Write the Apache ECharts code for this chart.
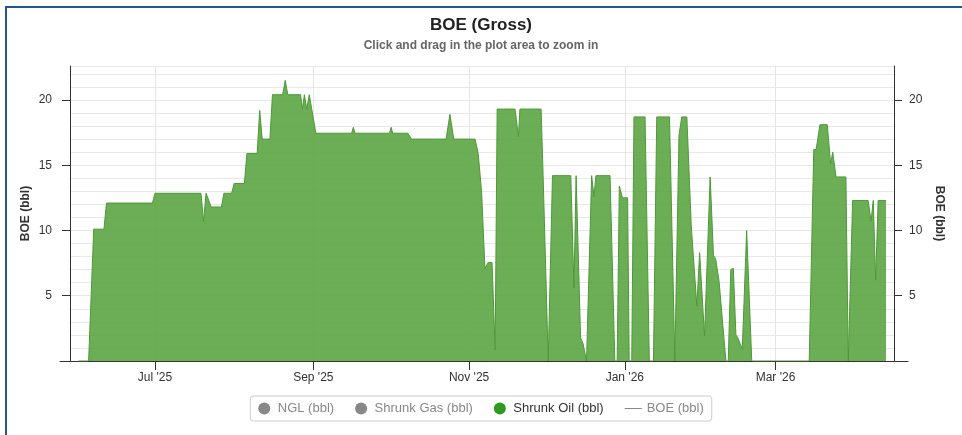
<!DOCTYPE html>
<html>
<head>
<meta charset="UTF-8">
<title>BOE (Gross)</title>
<script src="https://cdn.jsdelivr.net/npm/echarts@6/dist/echarts.min.js"></script>
<style>
  html, body { margin: 0; padding: 0; background: #fff; }
  #wrap { position: relative; width: 962px; height: 435px; overflow: hidden; }
  #chart { position: absolute; left: 0; top: 0; width: 962px; height: 435px; }
  #frame { position: absolute; left: 5px; top: 6px; right: 0; bottom: 0;
           border-left: 2px solid #22578a; border-top: 2px solid #22578a; pointer-events: none; }
</style>
</head>
<body>
<div id="wrap">
  <div id="chart"></div>
  <div id="frame"></div>
</div>
<script type="text/javascript">
// dates of the readings (local time)
var dates = [
  '2025-06-01','2025-06-05','2025-06-07','2025-06-11','2025-06-12','2025-06-30',
  '2025-07-01','2025-07-19','2025-07-20','2025-07-21','2025-07-23','2025-07-27','2025-07-28','2025-07-31',
  '2025-08-01','2025-08-05','2025-08-06','2025-08-10','2025-08-11','2025-08-12','2025-08-15','2025-08-16',
  '2025-08-20','2025-08-21','2025-08-22','2025-08-27','2025-08-27 18:00','2025-08-28 12:00','2025-08-29 10:00','2025-08-30 10:00',
  '2025-09-02','2025-09-16','2025-09-16 16:00','2025-09-17 08:00','2025-09-30 20:00','2025-10-01 12:00','2025-10-02 02:00',
  '2025-10-08','2025-10-09 12:00','2025-10-23','2025-10-24 12:00','2025-10-26',
  '2025-11-03 08:00','2025-11-04 14:00','2025-11-05 22:00','2025-11-07 05:00','2025-11-08 12:00','2025-11-10','2025-11-11 05:00',
  '2025-11-12','2025-11-19','2025-11-20 08:00','2025-11-20 22:00','2025-11-29 05:00','2025-11-30',
  '2025-12-02','2025-12-03 16:00','2025-12-10 20:00','2025-12-12 02:00','2025-12-12 22:00','2025-12-14 16:00','2025-12-15 16:00',
  '2025-12-17','2025-12-17 16:00','2025-12-19','2025-12-19 22:00','2025-12-20 16:00','2025-12-26 05:00','2025-12-28 02:00',
  '2025-12-29','2025-12-29 20:00','2025-12-31 02:00',
  '2026-01-02 02:00','2026-01-02 17:00','2026-01-03 17:00','2026-01-04 14:00','2026-01-08 22:00','2026-01-10 14:00','2026-01-12 05:00',
  '2026-01-13 12:00','2026-01-18 12:00','2026-01-20 14:00','2026-01-21 07:00','2026-01-22 05:00','2026-01-23 07:00','2026-01-25 07:00',
  '2026-01-27','2026-01-29 05:00','2026-01-30 07:00',
  '2026-02-01 05:00','2026-02-03 10:00','2026-02-04 17:00','2026-02-05 14:00','2026-02-06 22:00','2026-02-09 14:00','2026-02-10 12:00',
  '2026-02-11 12:00','2026-02-12 12:00','2026-02-13 12:00','2026-02-14 05:00','2026-02-16','2026-02-17 17:00','2026-02-19 17:00',
  '2026-03-14 05:00','2026-03-16','2026-03-16 22:00','2026-03-18 10:00','2026-03-21 07:00','2026-03-22 14:00','2026-03-23 10:00',
  '2026-03-24 17:00','2026-03-28 14:00','2026-03-29 12:00','2026-03-31 05:00',
  '2026-04-06 07:00','2026-04-07 10:00','2026-04-08 07:00','2026-04-09 05:00','2026-04-10 05:00','2026-04-13 07:00'
];
// Shrunk Oil (bbl)
var shrunkOil = [
  0, 0, 10.1, 10.1, 12.1, 12.1,
  12.85, 12.85, 10.7, 12.85, 11.8, 11.8, 12.85, 12.85,
  13.6, 13.6, 15.9, 15.9, 19.2, 17.0, 17.0, 20.4,
  20.4, 21.5, 20.4, 20.4, 19.3, 20.4, 19.3, 20.4,
  17.45, 17.45, 17.9, 17.45, 17.45, 17.9, 17.45,
  17.45, 17.0, 17.0, 18.9, 17.0,
  17.0, 15.9, 12.9, 7.1, 7.55, 7.55, 0.85,
  19.3, 19.3, 17.2, 19.3, 19.3, 14.2,
  0, 14.2, 14.2, 5.6, 14.2, 1.8, 1.3,
  0, 0, 14.2, 12.6, 14.2, 14.2, 0,
  0, 13.4, 12.5,
  12.5, 0, 0, 18.7, 18.7, 0, 0,
  18.7, 18.7, 0, 0, 17.3, 18.7, 18.7,
  10.4, 4.2, 8.3,
  1.9, 14.1, 8.1, 7.8, 6.1, 0, 0,
  7.0, 7.1, 2.0, 1.8, 0.9, 10.0, 0,
  0, 16.2, 16.2, 18.1, 18.1, 15.1, 16.0,
  14.1, 14.1, 0, 12.3,
  12.3, 10.7, 12.3, 6.2, 12.3, 12.3
];
// hidden in the legend (not shown)
var ngl = [];
var shrunkGas = [];
var boe = [];

var monthTicks = ['2025-07-01', '2025-09-01', '2025-11-01', '2026-01-01', '2026-03-01'];
var yTicks = [5, 10, 15, 20];
var yMax = 22.6;
var xStart = new Date(2025, 4, 28, 17).getTime();
var xEnd = new Date(2026, 3, 16, 10).getTime();

var monthNames = ['Jan','Feb','Mar','Apr','May','Jun','Jul','Aug','Sep','Oct','Nov','Dec'];
function toTime(s) {
    var p = s.split(/[- :]/);
    return new Date(+p[0], +p[1] - 1, +p[2], +(p[3] || 0), +(p[4] || 0)).getTime();
}
var tickTimes = monthTicks.map(toTime);
var oilData = dates.map(function (d, i) { return [toTime(d), shrunkOil[i]]; });

var font = 'Liberation Sans, Arial, sans-serif';
var chart = echarts.init(document.getElementById('chart'));
var option = {
    animation: false,
    textStyle: { fontFamily: font },
    title: {
        text: 'BOE (Gross)',
        subtext: 'Click and drag in the plot area to zoom in',
        left: 'center',
        top: 12,
        itemGap: 6,
        textStyle: { fontFamily: font, fontSize: 17, fontWeight: 'bold', color: '#222' },
        subtextStyle: { fontFamily: font, fontSize: 12, fontWeight: 'bold', color: '#666' }
    },
    legend: {
        left: 'center',
        top: 396,
        data: [
            { name: 'NGL (bbl)', icon: 'circle' },
            { name: 'Shrunk Gas (bbl)', icon: 'circle' },
            { name: 'Shrunk Oil (bbl)', icon: 'circle' },
            { name: 'BOE (bbl)', icon: 'path://M0,0L17,0L17,1L0,1Z' }
        ],
        selected: { 'NGL (bbl)': false, 'Shrunk Gas (bbl)': false, 'Shrunk Oil (bbl)': true, 'BOE (bbl)': false },
        itemWidth: 17,
        itemHeight: 12,
        itemGap: 21,
        padding: [6, 8],
        backgroundColor: '#fff',
        borderColor: '#ccc',
        borderWidth: 1,
        borderRadius: 3,
        inactiveColor: '#888',
        textStyle: { fontFamily: font, fontSize: 13, color: '#333' }
    },
    grid: [
        { left: 70, right: 68, top: 66, bottom: 74 },
        { left: 60, right: 54, top: 66, bottom: 74 }
    ],
    xAxis: [
        {
            // time as epoch millis on a value axis, ticks at month starts
            type: 'value',
            min: xStart,
            max: xEnd,
            axisLine: { lineStyle: { color: '#333', width: 1 } },
            axisTick: { customValues: tickTimes, length: 9, lineStyle: { color: '#333' } },
            axisLabel: {
                customValues: tickTimes,
                margin: 11,
                fontSize: 12,
                color: '#333',
                formatter: function (v) {
                    var d = new Date(v);
                    return monthNames[d.getMonth()] + " '" + String(d.getFullYear()).slice(2);
                }
            },
            splitLine: { show: true, lineStyle: { color: '#e6e6e6', width: 1 } }
        },
        {
            // axis line running past the plot on both sides
            type: 'value', gridIndex: 1, min: 0, max: 1,
            axisLine: { onZero: false, lineStyle: { color: '#333', width: 1 } },
            axisTick: { show: false }, axisLabel: { show: false }, splitLine: { show: false }
        }
    ],
    yAxis: [
        {
            type: 'value', position: 'left', min: 0, max: yMax,
            name: 'BOE (bbl)', nameLocation: 'middle', nameGap: 38, nameRotate: 90, nameMoveOverlap: false,
            nameTextStyle: { fontFamily: font, fontSize: 12, fontWeight: 'bold', color: '#333' },
            axisLine: { show: true, lineStyle: { color: '#333' } },
            axisTick: { show: true, customValues: yTicks, length: 8, lineStyle: { color: '#333' } },
            axisLabel: { customValues: yTicks, margin: 18, fontSize: 12, color: '#333' },
            splitLine: { show: false }
        },
        {
            type: 'value', position: 'right', min: 0, max: yMax,
            name: 'BOE (bbl)', nameLocation: 'middle', nameGap: 38, nameRotate: -90,
            nameTextStyle: { fontFamily: font, fontSize: 12, fontWeight: 'bold', color: '#333' },
            axisLine: { show: true, lineStyle: { color: '#333' } },
            axisTick: { show: true, customValues: yTicks, length: 8, lineStyle: { color: '#333' } },
            axisLabel: { customValues: yTicks, margin: 15, fontSize: 12, color: '#333' },
            splitLine: { show: false }
        },
        {
            // fine horizontal grid, one line per barrel
            type: 'value', position: 'left', min: 0, max: yMax, interval: 1,
            axisLine: { show: false }, axisTick: { show: false }, axisLabel: { show: false },
            splitLine: { show: true, lineStyle: { color: '#e8e8e8', width: 1 } }
        },
        { type: 'value', gridIndex: 1, min: 0, max: 1, show: false }
    ],
    series: [
        { name: 'NGL (bbl)', type: 'line', data: ngl, symbol: 'none', itemStyle: { color: '#7f7f7f' } },
        { name: 'Shrunk Gas (bbl)', type: 'line', data: shrunkGas, symbol: 'none', itemStyle: { color: '#7f7f7f' } },
        {
            name: 'Shrunk Oil (bbl)',
            type: 'line',
            data: oilData,
            symbol: 'none',
            itemStyle: { color: '#2f9a1f' },
            lineStyle: { color: '#4c9a36', width: 1 },
            areaStyle: { color: '#5ca544', opacity: 0.9 },
            z: 3
        },
        { name: 'BOE (bbl)', type: 'line', data: boe, symbol: 'none', itemStyle: { color: '#aaa' }, lineStyle: { color: '#aaa', width: 1 } }
    ]
};
chart.setOption(option);
</script>
</body>
</html>
